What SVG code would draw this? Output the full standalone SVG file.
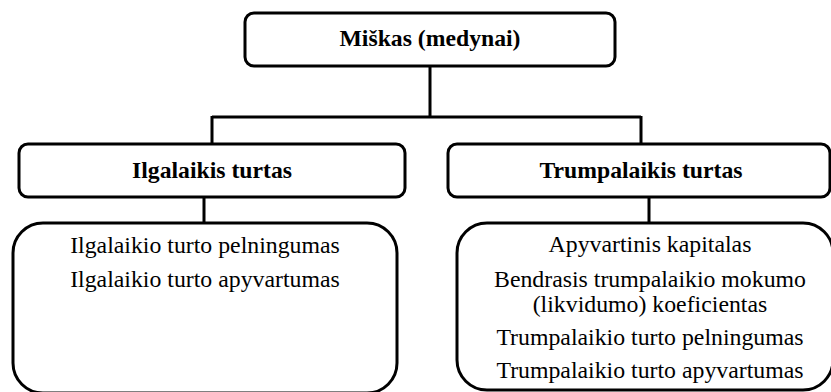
<svg xmlns="http://www.w3.org/2000/svg" width="831" height="392" viewBox="0 0 831 392">
<style>
.box{fill:#fff;stroke:#000;stroke-width:3}
.ln{fill:none;stroke:#000;stroke-width:3}
</style>
<rect width="831" height="392" fill="#fff"/>
<g id="connectors">
<path class="ln" d="M430 66V117M212 117H641M212 116V145M641 116V145M204 197V224M649 197V224"/>
</g>
<g id="miskas">
<rect class="box" x="245" y="13" width="370" height="53" rx="9"/>
<text x="430" y="46" font-family="Liberation Serif" font-size="23.7" font-weight="bold" text-anchor="middle">Miškas (medynai)</text>
</g>
<g id="ilgalaikis">
<rect class="box" x="19" y="144" width="386" height="53" rx="9"/>
<text x="212" y="178" font-family="Liberation Serif" font-size="23.7" font-weight="bold" text-anchor="middle">Ilgalaikis turtas</text>
</g>
<g id="trumpalaikis">
<rect class="box" x="448" y="144" width="382" height="53" rx="9"/>
<text x="641" y="178" font-family="Liberation Serif" font-size="23.7" font-weight="bold" text-anchor="middle">Trumpalaikis turtas</text>
</g>
<g id="ilgalaikis-rodikliai">
<rect class="box" x="13" y="223" width="384" height="170" rx="30"/>
<text x="205" y="253" font-family="Liberation Serif" font-size="23.8" text-anchor="middle">Ilgalaikio turto pelningumas</text>
<text x="205" y="287" font-family="Liberation Serif" font-size="23.8" text-anchor="middle">Ilgalaikio turto apyvartumas</text>
</g>
<g id="trumpalaikis-rodikliai">
<rect class="box" x="457" y="223" width="376" height="167" rx="30"/>
<text x="650" y="252" font-family="Liberation Serif" font-size="23.8" text-anchor="middle">Apyvartinis kapitalas</text>
<text x="650" y="287" font-family="Liberation Serif" font-size="23.8" text-anchor="middle">Bendrasis trumpalaikio mokumo</text>
<text x="650" y="312" font-family="Liberation Serif" font-size="23.8" text-anchor="middle">(likvidumo) koeficientas</text>
<text x="650" y="345" font-family="Liberation Serif" font-size="23.8" text-anchor="middle">Trumpalaikio turto pelningumas</text>
<text x="650" y="378" font-family="Liberation Serif" font-size="23.8" text-anchor="middle">Trumpalaikio turto apyvartumas</text>
</g>
</svg>
